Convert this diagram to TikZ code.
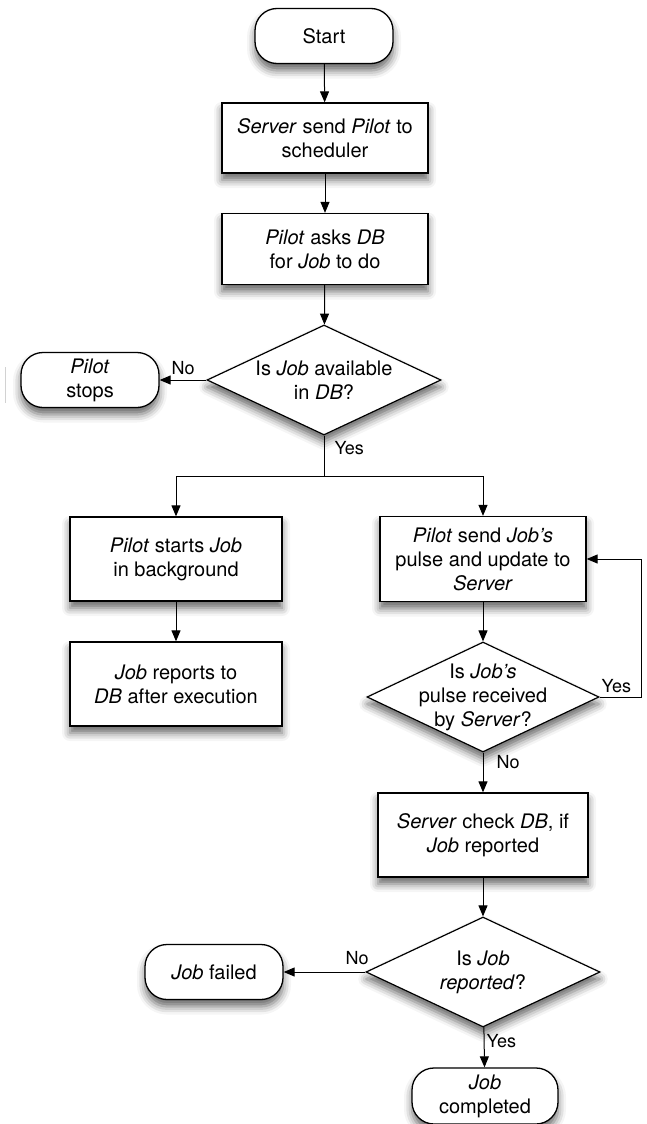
\documentclass[tikz,border=0pt]{standalone}
\usepackage{fontspec}
\setmainfont{TeX Gyre Heros}
\usetikzlibrary{shapes.geometric,arrows.meta,shadows.blur}
\begin{document}
\begin{tikzpicture}[x=1pt,y=-1pt,
  every node/.style={font=\fontsize{20}{24}\selectfont},
  sh/.style={blur shadow={shadow xshift=0pt,shadow yshift=-7pt,shadow blur radius=8pt,shadow opacity=60}},
  term/.style={draw, line width=1.3pt, rounded corners=22pt, fill=white, minimum width=138pt, minimum height=55pt, align=center, inner sep=2pt, sh},
  proc/.style={draw, line width=1.3pt, fill=white, minimum width=206pt, align=center, inner sep=2pt, sh},
  dec/.style={draw, line width=1.2pt, diamond, fill=white, minimum width=234pt, minimum height=110pt, inner sep=0pt, sh},
  arr/.style={line width=1pt, -{Triangle[length=11pt,width=9pt]}},
  lab/.style={font=\fontsize{18}{21}\selectfont, inner sep=2pt}
]
\useasboundingbox (0,0) rectangle (646,1124);

\node[term] (start) at (324,36) {Start};
\node[proc, minimum height=70pt] (b1) at (325,138) {\textit{Server} send \textit{Pilot} to\\scheduler};
\node[proc, minimum height=71pt] (b2) at (325,249) {\textit{Pilot} asks \textit{DB}\\for \textit{Job} to do};
\node[dec, label={[align=center]center:Is \textit{Job} available\\in \textit{DB}?}] (d1) at (324,380) {};
\node[term] (stop) at (90,380) {\textit{Pilot}\\stops};
\node[proc, minimum width=212pt, minimum height=84pt] (bl1) at (176,559) {\textit{Pilot} starts \textit{Job}\\in background};
\node[proc, minimum width=212pt, minimum height=84pt] (bl2) at (176,684) {\textit{Job} reports to\\\textit{DB} after execution};
\node[proc, minimum height=85pt] (br1) at (483,559) {\textit{Pilot} send \textit{Job's}\\pulse and update to\\\textit{Server}};
\node[dec, minimum width=232pt, label={[align=center]center:Is \textit{Job's}\\pulse received\\by \textit{Server}?}] (d2) at (483,697) {};
\node[proc, minimum width=210pt, minimum height=84pt] (br2) at (483,835) {\textit{Server} check \textit{DB}, if\\\textit{Job} reported};
\node[dec, label={[align=center]center:Is \textit{Job}\\\textit{reported}?}] (d3) at (483,972) {};
\node[term] (fail) at (214,972) {\textit{Job} failed};
\node[term, minimum width=146pt, minimum height=56pt] (done) at (485,1096) {\textit{Job}\\completed};

\coordinate (split) at (324,476);
\coordinate (loopc) at (641,697);

\draw[arr] (start) -- (b1);
\draw[arr] (b1) -- (b2);
\draw[arr] (b2) -- (d1);
\draw[arr] (d1) -- node[lab, above, yshift=3pt]{No} (stop);
\draw[line width=1pt] (d1.south) -- node[lab, right, pos=0.3, xshift=8pt]{Yes} (split);
\draw[arr] (split) -| (bl1);
\draw[arr] (split) -| (br1);
\draw[arr] (bl1) -- (bl2);
\draw[arr] (br1) -- (d2);
\draw[arr] (d2.east) -- node[lab, above, yshift=2pt, xshift=-4pt]{Yes} (loopc) |- (br1.east);
\draw[arr] (d2) -- node[lab, right, pos=0.25, xshift=11pt]{No} (br2);
\draw[arr] (br2) -- (d3);
\draw[arr] (d3) -- node[lab, above, pos=0.1, yshift=5pt]{No} (fail);
\draw[arr] (d3) -- node[lab, right, pos=0.35]{Yes} (done);

\draw[gray!35, line width=1pt] (5,367) -- (5,403);
\end{tikzpicture}
\end{document}
